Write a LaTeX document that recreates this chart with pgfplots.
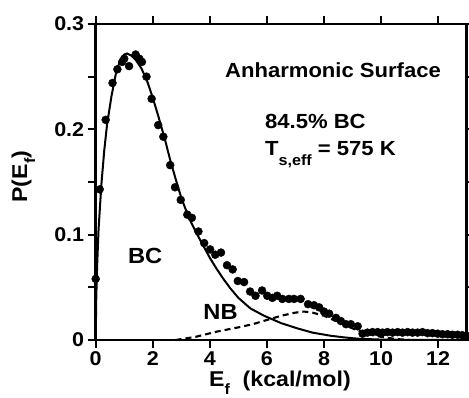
\documentclass[border=0pt]{standalone}
\usepackage{fontspec}
\setmainfont{Liberation Sans}[FakeStretch=1.08]
\usepackage{pgfplots}
\pgfplotsset{compat=1.18}
\begin{document}
\begin{tikzpicture}
\begin{axis}[
  scale only axis,
  width=371bp, height=316bp,
  xmin=0, xmax=13, ymin=0, ymax=0.3,
  axis line style={line width=2.5bp},
  every tick/.style={black, line width=1.8bp},
  tick align=outside,
  major tick length=8bp,
  xtick={0,2,4,6,8,10,12},
  ytick={0,0.05,0.1,0.15,0.2,0.25,0.3},
  yticklabels={0,,0.1,,0.2,,0.3},
  xticklabels={0,2,4,6,8,10,12},
  ticklabel style={font=\fontsize{20}{21}\selectfont\bfseries},
  /pgf/number format/assume math mode=true,
  clip=false,
  xlabel={E\raisebox{-8bp}{\fontsize{15}{15}\selectfont f}\ \ (kcal/mol)},
  ylabel={P(E\raisebox{-8bp}{\fontsize{15}{15}\selectfont f})},
  xlabel style={at={(rel axis cs:0.4965,-0.1477)}, anchor=base, font=\fontsize{21.5}{23}\selectfont\bfseries},
  ylabel style={at={(rel axis cs:-0.185,0.517)}, anchor=base, font=\fontsize{21.5}{23}\selectfont\bfseries},
]
\coordinate (ll) at (rel axis cs:0,0);
\coordinate (ur) at (rel axis cs:1,1);
% BC fit (solid)
\addplot[black, line width=2bp, no marks] coordinates {
(0,0) (0.02,0.04) (0.05,0.07) (0.1,0.105) (0.2,0.148) (0.3,0.18) (0.4,0.205)
(0.55,0.231) (0.7,0.252) (0.85,0.265) (1.0,0.271) (1.1,0.272) (1.25,0.270)
(1.4,0.266) (1.6,0.258) (1.8,0.246) (2.0,0.230) (2.2,0.212) (2.43,0.19)
(2.6,0.172) (2.8,0.153) (3.0,0.135) (3.25,0.117) (3.5,0.103) (3.78,0.089)
(4.0,0.078) (4.25,0.067) (4.5,0.057) (4.72,0.049) (5.0,0.040) (5.42,0.030)
(5.9,0.023) (6.5,0.016) (7.07,0.011) (7.6,0.007) (8.24,0.004) (8.7,0.0025)
(9.2,0.0012) (10,0.0004) (11,0.0001) (13,0)
};
% NB (dashed)
\addplot[black, line width=2.1bp, dash pattern=on 6bp off 4bp, no marks] coordinates {
(2.8,0) (3.5,0.003) (4.25,0.008) (5.0,0.012) (5.5,0.015) (6.0,0.019)
(6.5,0.023) (7.0,0.026) (7.3,0.027) (7.6,0.026) (8.0,0.023) (8.5,0.017)
(9.0,0.011) (9.5,0.006) (10.0,0.003) (10.5,0.001) (11,0)
};
% data
\addplot[only marks, mark=*, mark size=4bp, black] coordinates {
(0.0,0.058) (0.14,0.143) (0.35,0.209) (0.59,0.244) (0.76,0.257) (0.93,0.264)
(1.0,0.267) (1.17,0.260) (1.40,0.271) (1.53,0.267) (1.62,0.264) (1.78,0.250)
(1.96,0.229) (2.19,0.204) (2.37,0.193) (2.61,0.166) (2.78,0.145) (2.98,0.133)
(3.21,0.119) (3.37,0.116) (3.60,0.103) (3.80,0.092) (4.01,0.086) (4.19,0.081)
(4.39,0.083) (4.60,0.071) (4.80,0.067) (4.98,0.056) (5.20,0.055) (5.41,0.046)
(5.60,0.042) (5.83,0.047) (6.01,0.042) (6.19,0.040) (6.36,0.042) (6.54,0.039)
(6.77,0.039) (6.95,0.039) (7.18,0.039) (7.44,0.034) (7.65,0.033) (7.83,0.031)
(8.00,0.027) (8.18,0.025) (8.42,0.021) (8.59,0.018) (8.77,0.015) (8.94,0.015)
(9.18,0.013) (9.35,0.006) (9.52,0.007) (9.70,0.0075) (9.88,0.0075) (10.05,0.007)
(10.22,0.0075) (10.40,0.007) (10.58,0.0075) (10.75,0.007) (10.93,0.0075)
(11.10,0.007) (11.28,0.007) (11.45,0.0075) (11.63,0.0065) (11.80,0.0065)
(11.98,0.006) (12.15,0.0055) (12.33,0.0055) (12.50,0.005) (12.68,0.005)
(12.85,0.0045) (13.0,0.004)
};
\node[anchor=base west, inner sep=0pt, font=\fontsize{20.5}{22}\selectfont\bfseries] at (axis cs:4.53,0.2494) {Anharmonic Surface};
\node[anchor=base west, inner sep=0pt, font=\fontsize{20.5}{22}\selectfont\bfseries] at (axis cs:5.93,0.201) {84.5\% BC};
\node[anchor=base west, inner sep=0pt, font=\fontsize{20.5}{22}\selectfont\bfseries] at (axis cs:5.93,0.1756) {T\raisebox{-10bp}{\fontsize{15}{15}\selectfont s,eff} = 575 K};
\node[anchor=base west, inner sep=0pt, font=\fontsize{22}{24}\selectfont\bfseries] at (axis cs:1.13,0.0722) {BC};
\node[anchor=base west, inner sep=0pt, font=\fontsize{22}{24}\selectfont\bfseries] at (axis cs:3.77,0.019) {NB};
\end{axis}
\pgfresetboundingbox
\path[use as bounding box] ([shift={(-95.7bp,-58bp)}]ll) rectangle ([shift={(2.3bp,24bp)}]ur);
\end{tikzpicture}
\end{document}
